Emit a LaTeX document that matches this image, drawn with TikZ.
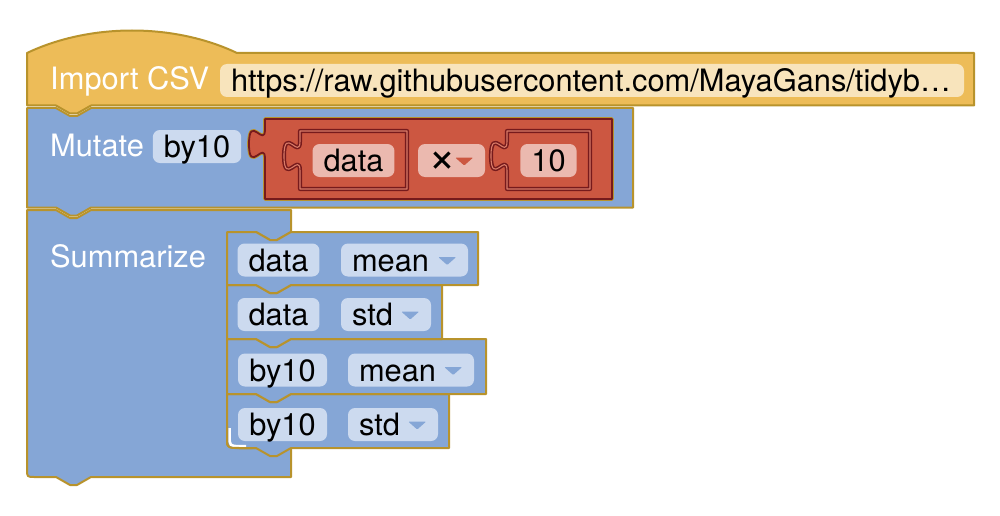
\documentclass[tikz,border=0pt]{standalone}
\usepackage{fontspec}
\setmainfont{TeX Gyre Heros}
\usetikzlibrary{calc}
\definecolor{gold}{HTML}{B8932C}
\definecolor{yel}{HTML}{EDBC58}
\definecolor{yelf}{HTML}{F8E4BC}
\definecolor{blu}{HTML}{85A6D6}
\definecolor{bluf}{HTML}{CCDAEF}
\definecolor{redb}{HTML}{CC5741}
\definecolor{redf}{HTML}{EBB9AF}
\definecolor{dred}{HTML}{761A1C}
\definecolor{lred}{HTML}{D97C68}
\newcommand\stmtblk[5]{%
  \path[#5] (#1,#2) -- ({#1+29},#2) -- ({#1+43},{#2+8}) -- ({#1+50},{#2+8}) -- ({#1+64},#2) -- (#3,#2) -- (#3,#4)
   -- ({#1+64},#4) -- ({#1+50},{#4+8}) -- ({#1+43},{#4+8}) -- ({#1+29},#4) -- (#1,#4) -- cycle;}
\newcommand\ddtri[2]{%
  \fill[#2, rounded corners=1pt] ($(#1.east)+(-30,-3)$) -- ($(#1.east)+(-12,-3)$) -- ($(#1.east)+(-21,5)$) -- cycle;}
\begin{document}
\begin{tikzpicture}[x=1pt,y=-1pt,
  blkY/.style={fill=yel, draw=gold, line width=2pt, line join=round},
  blkB/.style={fill=blu, draw=gold, line width=2pt, line join=round},
  lbl/.style={text=white, inner sep=0pt, font=\fontsize{30.8}{36}\selectfont},
  field/.style={rounded corners=7pt, minimum height=33pt, inner xsep=11pt, inner ysep=0pt,
     text height=22pt, text depth=0pt, font=\fontsize{30.8}{36}\selectfont, text=black},
  fY/.style={field, fill=yelf},
  fB/.style={field, fill=bluf},
  fR/.style={field, fill=redf},
  slot/.style={fill=redb, draw=dred, double=lred, double distance=1.1pt, line width=1.5pt, line join=round}]
\useasboundingbox (0,0) rectangle (1000,516);

% Summarize (C-shaped) block
\path[blkB] (27,210) -- (56,210) -- (70,218) -- (77,218) -- (91,210) -- (291,210) -- (291,232)
  -- (277,240) -- (270,240) -- (256,232) -- (235,232) .. controls (227,232) .. (227,240)
  -- (227,440) .. controls (227,448) .. (235,448) -- (291,448) -- (291,477)
  -- (91,477) -- (77,485) -- (70,485) -- (56,477) -- (35,477) .. controls (27,477) .. (27,469) -- cycle;

% inner statement blocks
\stmtblk{227}{394}{449}{448}{blkB}
\stmtblk{227}{339}{486}{394}{blkB}
\stmtblk{227}{285}{442}{339}{blkB}
\stmtblk{227}{232}{478}{285}{blkB}
% rounded inner corner of the C with its highlight
\fill[blu] (224,434) .. controls (226,449) .. (241,449) -- (224,451) -- cycle;
\draw[white, line width=2.6pt] (229.6,428) -- (229.6,436) .. controls (229.6,446) .. (240,446.2) -- (246,446.2);
\draw[gold, line width=2pt] (227,426) -- (227,435) .. controls (227,448) .. (240,448) -- (252,448);

% Mutate block
\stmtblk{27}{108}{633}{207.5}{blkB}

% Import CSV hat block
\path[blkY] (27,53) .. controls (90,23) and (174,23) .. (237,53) -- (974,53) -- (974,105.5)
  -- (91,105.5) -- (77,113.5) -- (70,113.5) -- (56,105.5) -- (27,105.5) -- cycle;

% labels
\node[lbl, anchor=base west] (limp) at (50,90) {Import CSV};
\node[lbl, anchor=base west] (lmut) at (50,156) {Mutate};
\node[lbl, anchor=base west] (lsum) at (50,267) {Summarize};

% URL field
\node[fY, minimum width=744pt, text width=722pt, align=left] (url) at (592,80.5)
  {https://raw.githubusercontent.com/MayaGans/tidyb…};

% Mutate field
\node[fB, minimum width=88pt] (mby) at (197,146.5) {by10};

% red arithmetic block
\path[draw=gold, line width=3.6pt, line join=round] (265,119) -- (612,119) -- (612,199) -- (265,199) -- (265,159)
  .. controls (265,139) and (249,175) .. (249,144) .. controls (249,113) and (265,149) .. (265,129) -- cycle;
\path[fill=redb, draw=dred, line width=1.8pt, line join=round] (265,119) -- (612,119) -- (612,199) -- (265,199) -- (265,159)
  .. controls (265,139) and (249,175) .. (249,144) .. controls (249,113) and (265,149) .. (265,129) -- cycle;
\path[slot] (300,131) -- (407,131) -- (407,189) -- (300,189) -- (300,171)
  .. controls (300,151) and (284,187) .. (284,156) .. controls (284,125) and (300,161) .. (300,141) -- cycle;
\path[slot] (507,131) -- (590,131) -- (590,189) -- (507,189) -- (507,171)
  .. controls (507,151) and (491,187) .. (491,156) .. controls (491,125) and (507,161) .. (507,141) -- cycle;
\node[fR, minimum width=81pt] (rdata) at (353.5,160.5) {data};
\node[fR, minimum width=67pt, text width=45pt, align=left] (rop) at (451.5,160.5) {\hspace*{-1pt}\raisebox{-1pt}{\scalebox{1.55}{×}}};
\ddtri{rop}{redb}
\node[fR, minimum width=55pt] (rten) at (548.5,160.5) {10};

% Summarize fields
\node[fB, minimum width=81pt] (s1a) at (278.5,260) {data};
\node[fB, minimum width=127pt, text width=105pt, align=left] (s1b) at (404.5,260) {mean};
\ddtri{s1b}{blu}
\node[fB, minimum width=81pt] (s2a) at (278.5,314.5) {data};
\node[fB, minimum width=90pt, text width=68pt, align=left] (s2b) at (386,314.5) {std};
\ddtri{s2b}{blu}
\node[fB, minimum width=89pt] (s3a) at (282.5,370) {by10};
\node[fB, minimum width=126pt, text width=104pt, align=left] (s3b) at (411,370) {mean};
\ddtri{s3b}{blu}
\node[fB, minimum width=89pt] (s4a) at (282.5,424.5) {by10};
\node[fB, minimum width=90pt, text width=68pt, align=left] (s4b) at (393,424.5) {std};
\ddtri{s4b}{blu}
\end{tikzpicture}
\end{document}
